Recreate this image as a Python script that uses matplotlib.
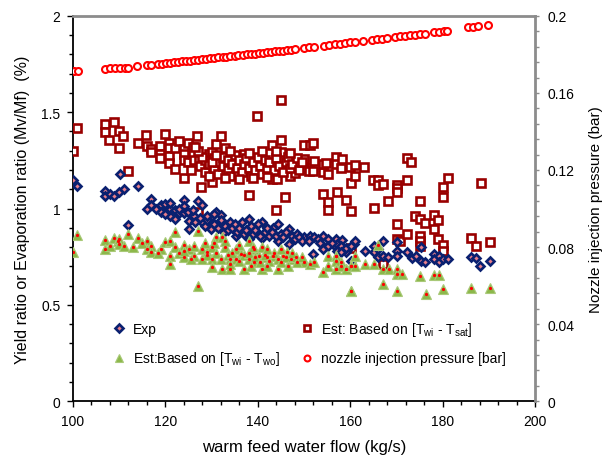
import matplotlib
matplotlib.use("Agg")
import matplotlib.pyplot as plt
from matplotlib.ticker import MultipleLocator

plt.rcParams.update({
    "font.family": ["Liberation Sans", "DejaVu Sans"],
    "mathtext.fontset": "custom",
    "mathtext.rm": "Liberation Sans",
    "mathtext.it": "Liberation Sans",
    "font.size": 10,
})

# ── data ──────────────────────────────────────────────────────────────────────
# Est: based on [Twi - Tsat]  (squares)
tsat_x = [100.0, 100.8, 107.0, 107.0, 107.9, 108.9, 109.9, 109.9, 110.8, 111.9,
          114.0, 115.9, 116.0, 116.9, 116.9, 118.9, 118.9, 118.9, 120.0, 120.9,
          120.9, 120.9, 120.9, 122.0, 122.1, 123.0, 124.0, 124.0, 124.0, 124.0,
          124.8, 124.8, 126.0, 126.0, 126.3, 126.9, 127.2, 127.8, 127.0, 130.0,
          129.4, 130.1, 131.0, 132.0, 133.0, 137.0, 138.0, 139.9, 143.0, 143.0,
          144.1, 143.9, 145.0, 145.0, 145.0, 145.9, 147.0, 148.1, 150.0, 151.2,
          152.0, 150.0, 152.2, 150.0, 151.0, 152.0, 154.0, 154.0, 154.0, 154.8,
          155.1, 155.1, 155.1, 157.0, 157.0, 158.2, 158.0, 157.1, 159.1, 160.0,
          160.2, 160.2, 160.1, 161.0, 161.1, 163.0, 165.0, 166.1, 166.1, 167.1,
          165.1, 167.1, 168.2, 170.2, 170.2, 170.2, 170.2, 170.2, 170.7, 172.2,
          173.1, 172.2, 172.2, 174.1, 175.0, 176.2, 175.0, 175.1, 175.1, 175.1,
          178.2, 179.0, 178.2, 179.0, 180.1, 180.1, 180.1, 180.1, 181.1, 186.2,
          187.2, 188.2, 190.3,
          127.5, 128.5, 128.5, 129.5, 129.5, 130.5, 130.5, 131.5, 131.5, 132.5,
          132.5, 133.5, 133.5, 134.0, 134.5, 135.0, 135.5, 136.0, 136.5, 137.0,
          137.5, 138.0, 138.5, 139.0, 139.5, 140.0, 140.5, 141.0, 141.5, 142.0,
          142.5, 143.5, 144.0, 144.5, 145.5, 146.0, 146.5, 147.0, 147.5, 148.5,
          149.0, 149.5, 133.0, 136.0, 139.0, 142.0, 130.0, 131.0, 134.0, 138.0,
          141.0, 144.0, 147.0, 128.0, 127.0, 125.5, 126.5]
tsat_y = [1.300, 1.418, 1.440, 1.395, 1.358, 1.451, 1.400, 1.316, 1.375, 1.196,
          1.338, 1.382, 1.323, 1.310, 1.295, 1.323, 1.283, 1.260, 1.385, 1.340,
          1.313, 1.274, 1.236, 1.205, 1.313, 1.352, 1.309, 1.283, 1.254, 1.161,
          1.340, 1.243, 1.317, 1.283, 1.250, 1.375, 1.250, 1.112, 0.980, 1.140,
          1.283, 1.295, 1.335, 1.378, 1.313, 1.283, 1.070, 1.479, 1.328, 1.153,
          1.153, 0.994, 1.565, 1.357, 1.295, 1.058, 1.167, 1.184, 1.328, 1.328,
          1.340, 1.257, 1.245, 1.208, 1.196, 1.196, 1.188, 1.075, 1.231, 1.235,
          1.179, 1.032, 0.990, 1.266, 1.231, 1.257, 1.208, 1.084, 1.044, 1.213,
          0.985, 0.795, 1.132, 1.226, 1.167, 1.217, 1.150, 1.150, 1.122, 1.127,
          1.005, 0.712, 1.040, 1.122, 1.105, 1.088, 0.919, 0.842, 0.833, 1.260,
          1.240, 1.150, 0.867, 0.963, 0.945, 0.927, 1.040, 0.859, 0.833, 0.803,
          0.966, 0.940, 0.894, 0.842, 1.113, 1.058, 0.810, 0.781, 1.158, 0.845,
          0.803, 1.130, 0.828,
          1.22, 1.25, 1.19, 1.23, 1.17, 1.26, 1.21, 1.24, 1.18, 1.27,
          1.22, 1.25, 1.20, 1.17, 1.23, 1.28, 1.21, 1.25, 1.19, 1.23,
          1.26, 1.21, 1.17, 1.24, 1.20, 1.27, 1.22, 1.18, 1.25, 1.21,
          1.24, 1.20, 1.26, 1.22, 1.19, 1.24, 1.27, 1.21, 1.23, 1.26,
          1.20, 1.24, 1.16, 1.155, 1.16, 1.165, 1.24, 1.28, 1.30, 1.29,
          1.30, 1.30, 1.29, 1.27, 1.30, 1.20, 1.32]

# Exp (diamonds)
exp_x = [100.0, 100.9, 107.0, 107.0, 108.0, 108.9, 110.0, 110.1, 111.0, 114.0,
         117.0, 116.0, 117.0, 119.1, 120.0, 120.4, 121.1, 122.0, 121.1, 122.2,
         124.0, 124.0, 123.0, 124.0, 125.0, 126.2, 125.1, 127.1, 128.0, 125.1,
         112.0, 128.0, 130.0, 131.0, 132.0, 134.0, 138.1, 141.0, 143.2, 144.3,
         146.8, 150.0, 151.2, 152.2, 154.0, 155.1, 157.0, 158.3, 152.0, 154.0,
         155.1, 157.0, 158.0, 159.1, 160.9, 146.8, 144.3, 141.0, 138.1, 135.2,
         132.7, 129.8, 161.1, 157.2, 158.0, 159.1, 160.2, 157.2, 158.0, 163.1,
         165.1, 165.1, 167.1, 166.0, 167.1, 168.2, 160.2, 166.0, 170.2, 170.2,
         170.2, 172.2, 173.3, 174.3, 175.3, 175.3, 176.2, 178.2, 178.2, 179.2,
         179.2, 180.1, 181.2, 186.2, 187.2, 188.1, 190.3,
         126.5, 127.5, 128.5, 129.0, 130.5, 131.5, 132.0, 133.0, 133.5, 134.5,
         135.0, 135.5, 136.0, 136.5, 137.0, 137.5, 138.5, 139.0, 139.5, 140.0,
         140.5, 141.5, 142.0, 142.5, 143.0, 144.0, 145.0, 145.5, 146.0, 147.5,
         148.0, 148.5, 149.0, 149.5, 151.0, 153.0, 153.5, 156.0, 118.0, 119.0,
         120.0, 121.0, 123.0, 126.0, 129.0, 130.5]
exp_y = [1.150, 1.118, 1.090, 1.066, 1.075, 1.066, 1.084, 1.179, 1.100, 1.115,
         1.052, 1.000, 1.016, 1.016, 1.023, 0.990, 1.000, 0.990, 0.960, 0.945,
         1.046, 1.011, 0.977, 0.977, 0.980, 0.963, 0.937, 1.040, 1.016, 0.894,
         0.914, 0.928, 0.960, 0.984, 0.966, 0.931, 0.945, 0.931, 0.900, 0.919,
         0.894, 0.850, 0.855, 0.850, 0.855, 0.842, 0.842, 0.838, 0.764, 0.790,
         0.803, 0.798, 0.790, 0.772, 0.815, 0.815, 0.833, 0.845, 0.842, 0.859,
         0.880, 0.894, 0.833, 0.816, 0.803, 0.793, 0.807, 0.781, 0.772, 0.781,
         0.803, 0.776, 0.833, 0.746, 0.755, 0.746, 0.729, 0.790, 0.824, 0.781,
         0.752, 0.772, 0.741, 0.755, 0.798, 0.729, 0.720, 0.764, 0.738, 0.755,
         0.725, 0.738, 0.738, 0.746, 0.741, 0.703, 0.729,
         0.93, 0.95, 0.91, 0.94, 0.92, 0.90, 0.94, 0.91, 0.89, 0.90,
         0.92, 0.88, 0.90, 0.93, 0.87, 0.89, 0.91, 0.87, 0.89, 0.92,
         0.86, 0.88, 0.90, 0.86, 0.88, 0.86, 0.87, 0.85, 0.88, 0.86,
         0.84, 0.87, 0.85, 0.83, 0.83, 0.84, 0.82, 0.82, 1.00, 0.98,
         0.97, 1.03, 1.00, 0.99, 0.96, 0.97]

# Est: based on [Twi - Two]  (triangles)
two_x = [100.0, 100.9, 107.0, 107.0, 108.0, 109.0, 109.8, 110.0, 110.0, 111.0,
         112.0, 114.0, 116.0, 116.0, 117.0, 117.0, 119.1, 120.0, 121.1, 121.1,
         121.1, 122.0, 122.2, 124.0, 124.0, 125.1, 126.2, 126.2, 127.1, 127.1,
         128.0, 128.0, 129.1, 130.2, 130.2, 130.2, 131.0, 132.2, 132.2, 133.0,
         134.1, 134.1, 135.2, 135.2, 136.3, 137.0, 138.1, 138.1, 139.2, 139.2,
         140.3, 141.0, 141.0, 142.1, 143.2, 144.3, 144.3, 145.4, 146.4, 147.2,
         148.3, 150.1, 151.2, 152.2, 154.1, 155.2, 155.2, 157.0, 157.0, 158.0,
         159.1, 160.2, 160.2,
         157.0, 157.0, 157.0, 158.0, 159.1, 160.2, 161.1, 161.1, 163.1, 165.2,
         167.1, 167.1, 168.3, 170.2, 170.2, 170.2, 171.1, 175.1, 176.3, 178.2,
         179.2, 180.1, 186.2, 190.3, 160.2, 166.1,
         129.0, 131.0, 132.0, 133.5, 134.5, 136.0, 137.0, 138.0, 139.5, 140.5,
         141.5, 142.5, 143.5, 145.0, 146.0, 147.5, 148.5, 149.5, 128.5, 130.5,
         133.0, 136.0, 139.0, 142.0, 145.0, 134.0, 138.5, 142.0, 146.5, 123.0,
         125.5, 118.5, 113.0, 115.0, 124.0]
two_y = [0.776, 0.862, 0.838, 0.790, 0.807, 0.845, 0.833, 0.842, 0.816, 0.803,
         0.868, 0.845, 0.833, 0.790, 0.803, 0.776, 0.790, 0.824, 0.833, 0.755,
         0.712, 0.880, 0.798, 0.810, 0.746, 0.790, 0.807, 0.755, 0.885, 0.600,
         0.790, 0.738, 0.772, 0.798, 0.738, 0.695, 0.850, 0.850, 0.686, 0.798,
         0.738, 0.686, 0.790, 0.738, 0.764, 0.686, 0.833, 0.738, 0.790, 0.720,
         0.755, 0.798, 0.686, 0.746, 0.755, 0.686, 0.738, 0.755, 0.772, 0.738,
         0.746, 0.720, 0.712, 0.720, 0.669, 0.755, 0.703, 0.755, 0.686, 0.720,
         0.686, 0.703, 0.573,
         0.755, 0.729, 0.686, 0.703, 0.686, 0.703, 0.755, 0.703, 0.712, 0.712,
         0.686, 0.608, 0.686, 0.686, 0.660, 0.573, 0.660, 0.651, 0.556, 0.655,
         0.655, 0.582, 0.590, 0.590, 0.573, 0.810,
         0.76, 0.77, 0.74, 0.76, 0.77, 0.73, 0.76, 0.77, 0.75, 0.72,
         0.76, 0.73, 0.77, 0.72, 0.75, 0.77, 0.72, 0.75, 0.82, 0.82,
         0.83, 0.81, 0.80, 0.79, 0.79, 0.71, 0.70, 0.70, 0.70, 0.77,
         0.74, 0.77, 0.80, 0.82, 0.78]

# nozzle injection pressure [bar] (right axis, circles)
noz_x = [100.3, 101.2, 107.0, 108.0, 109.1, 110.2, 111.2, 112.0, 113.8, 116.0,
         116.9, 118.5, 119.3, 120.2, 121.0, 121.9, 122.8, 123.6, 124.5, 125.4,
         126.2, 127.1, 128.0, 128.9, 129.7, 130.6, 131.5, 132.4, 133.2, 134.1,
         135.0, 135.8, 136.7, 137.6, 138.5, 139.3, 140.2, 141.1, 142.0, 142.8,
         143.7, 144.6, 145.4, 146.3, 147.2, 148.1, 150.0, 151.1, 152.2, 154.3,
         155.4, 156.7, 157.8, 158.9, 160.0, 161.0, 162.8, 164.7, 165.8, 166.9,
         168.0, 169.7, 170.8, 171.9, 173.0, 174.1, 175.1, 176.2, 178.1, 179.2,
         180.3, 181.0, 185.5, 186.6, 187.7, 189.8]
noz_p = [0.1714, 0.1714, 0.1725, 0.1727, 0.1728, 0.1729, 0.1730, 0.1732, 0.1740, 0.1745,
         0.1747, 0.1750, 0.1752, 0.1755, 0.1757, 0.1759, 0.1762, 0.1764, 0.1766, 0.1768,
         0.1771, 0.1773, 0.1775, 0.1777, 0.1780, 0.1782, 0.1784, 0.1786, 0.1789, 0.1791,
         0.1793, 0.1796, 0.1798, 0.1800, 0.1802, 0.1804, 0.1807, 0.1809, 0.1811, 0.1813,
         0.1816, 0.1818, 0.1820, 0.1822, 0.1825, 0.1827, 0.1834, 0.1837, 0.1840, 0.1846,
         0.1849, 0.1853, 0.1856, 0.1859, 0.1862, 0.1865, 0.1870, 0.1876, 0.1879, 0.1882,
         0.1885, 0.1890, 0.1893, 0.1896, 0.1899, 0.1902, 0.1905, 0.1908, 0.1914, 0.1917,
         0.1920, 0.1923, 0.1940, 0.1944, 0.1947, 0.1955]

left_ticks = [0, 0.5, 1, 1.5, 2]
left_labels = ["0", "0.5", "1", "1.5", "2"]
right_ticks = [0, 0.04, 0.08, 0.12, 0.16, 0.2]
right_labels = ["0", "0.04", "0.08", "0.12", "0.16", "0.2"]

NAVY, DRED, GREEN, RED, GREY = "#0a2070", "#990000", "#8cb84a", "#ff0000", "#8c8c8c"

# ── figure ────────────────────────────────────────────────────────────────────
fig = plt.figure(figsize=(6.02, 4.56), dpi=100)
ax = fig.add_axes([0.121, 0.118, 0.768, 0.845])
ax2 = ax.twinx()

h_tsat, = ax.plot(tsat_x, tsat_y, ls="none", marker="s", ms=5.4, mfc="white",
                  mec=DRED, mew=1.9, zorder=3)
h_exp, = ax.plot(exp_x, exp_y, ls="none", marker="D", ms=4.3, mfc="#e87f8a",
                 mec=NAVY, mew=1.9, zorder=4)
h_two, = ax.plot(two_x, two_y, ls="none", marker="^", ms=6.6, mfc=GREEN,
                 mec="#a9c978", mew=0.8, zorder=5)
ax.plot(two_x, two_y, ls="none", marker="o", ms=1.3, mfc=RED, mec=RED, zorder=6)
h_noz, = ax2.plot(noz_x, noz_p, ls="none", marker="o", ms=5.0, mfc="white",
                  mec=RED, mew=1.5)

ax.set_xlim(100, 200)
ax.set_ylim(0, 2)
ax2.set_ylim(0, 0.2)
ax.xaxis.set_major_locator(MultipleLocator(20))
ax.xaxis.set_minor_locator(MultipleLocator(4))
ax.set_yticks(left_ticks)
ax.set_yticklabels(left_labels)
ax.yaxis.set_minor_locator(MultipleLocator(0.1))
ax2.set_yticks(right_ticks)
ax2.set_yticklabels(right_labels)
ax2.yaxis.set_minor_locator(MultipleLocator(0.008))

for a in (ax, ax2):
    for s in a.spines.values():
        s.set_visible(False)
ax.spines["left"].set_visible(True)
ax.spines["bottom"].set_visible(True)
ax.spines["left"].set_linewidth(1.3)
ax.spines["bottom"].set_linewidth(1.3)
ax2.spines["top"].set_visible(True)
ax2.spines["right"].set_visible(True)
ax2.spines["top"].set_color(GREY)
ax2.spines["right"].set_color(GREY)
ax2.spines["top"].set_linewidth(2)
ax2.spines["right"].set_linewidth(2)

ax.tick_params(axis="both", which="major", direction="out", length=4, width=1, pad=5,
               labelsize=10)
ax.tick_params(axis="both", which="minor", direction="out", length=3, width=1)
ax2.tick_params(axis="y", which="both", direction="out", length=3, width=1,
                color=GREY, pad=6, labelsize=10)

ax.set_xlabel("warm feed water flow (kg/s)", fontsize=12, labelpad=8)
ax.set_ylabel("Yield ratio or Evaporation ratio (Mv/Mf)  (%)", fontsize=11.5, labelpad=8)
ax2.set_ylabel("Nozzle injection pressure (bar)", fontsize=11, labelpad=10)

leg = ax.legend([h_exp, h_two, h_tsat, h_noz],
                ["Exp",
                 r"Est:Based on [T$_{\rm wi}$ - T$_{\rm wo}$]",
                 r"Est: Based on [T$_{\rm wi}$ - T$_{\rm sat}$]",
                 "nozzle injection pressure [bar]"],
                ncol=2, frameon=False, loc="lower left", bbox_to_anchor=(0.06, 0.055),
                handlelength=0.8, handletextpad=0.6, columnspacing=1.6,
                labelspacing=1.0, fontsize=10, markerscale=0.85)

fig.savefig("out.png", dpi=100)
